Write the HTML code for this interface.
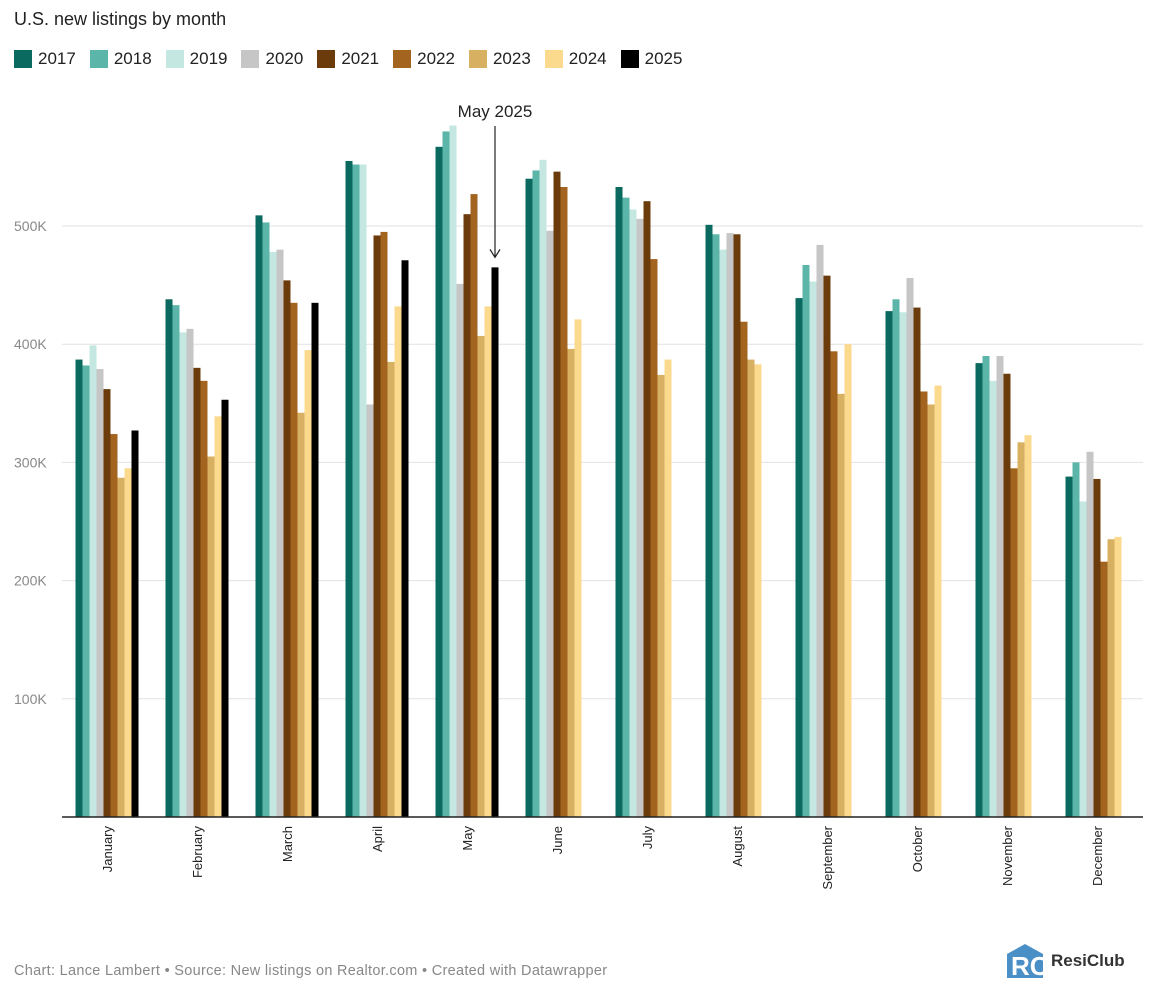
<!DOCTYPE html>
<html><head><meta charset="utf-8">
<style>
body{margin:0;background:#fff;font-family:"Liberation Sans",sans-serif;}
#wrap{position:relative;width:1154px;height:994px;overflow:hidden;}
.t{position:absolute;}
</style></head>
<body>
<div id="wrap">
<div class="t" style="left:14px;top:9px;font-size:18px;color:#222;">U.S. new listings by month</div>
<div class="t" id="legend" style="left:14px;top:49px;font-size:17px;color:#222;display:flex;gap:14px;"></div>
<svg id="chart" width="1154" height="994" style="position:absolute;left:0;top:0;font-family:'Liberation Sans',sans-serif;"></svg>
<div class="t" style="left:14px;top:963px;font-size:14.5px;color:#888;letter-spacing:0.3px;">Chart: Lance Lambert • Source: New listings on Realtor.com • Created with Datawrapper</div>
<div class="t" style="left:1005px;top:942px;display:flex;align-items:center;gap:6px;">
<svg width="40" height="38" viewBox="0 0 40 38"><path d="M2 12 L20 2 L38 12 L38 36 L2 36Z" fill="#4a8fc6"/><text x="6" y="33" font-size="26" font-weight="bold" fill="#fff" font-family="Liberation Sans">RC</text></svg>
<span style="font-size:17px;font-weight:bold;color:#333;">ResiClub</span></div>
<script>
const years=['2017','2018','2019','2020','2021','2022','2023','2024','2025'];
const colors=['#0b6a5f','#5bb5a8','#c4e8e1','#c6c6c6','#6b3b0c','#a3641f','#d8b062','#fbd98d','#000000'];
const months=['January','February','March','April','May','June','July','August','September','October','November','December'];
const v2017=[387,438,509,555,567,540,533,501,439,428,384,288];
const v2018=[382,433,503,552,580,547,524,493,467,438,390,300];
const v2019=[399,410,478,552,585,556,514,480,453,427,369,267];
const v2020=[379,413,480,349,451,496,506,494,484,456,390,309];
const v2021=[362,380,454,492,510,546,521,493,458,431,375,286];
const v2022=[324,369,435,495,527,533,472,419,394,360,295,216];
const v2023=[287,305,342,385,407,396,374,387,358,349,317,235];
const v2024=[295,339,395,432,432,421,387,383,400,365,323,237];
const v2025=[327,353,435,471,465,null,null,null,null,null,null,null];
const series=[v2017,v2018,v2019,v2020,v2021,v2022,v2023,v2024,v2025];
const yTicks=[100,200,300,400,500];
const NS='http://www.w3.org/2000/svg';
const svg=document.getElementById('chart');
const y0=817,pxPerK=1.182,x0=62,x1=1143,groupW=90,firstC=107,barW=7;
const y=v=>y0-v*pxPerK;
const xc=i=>firstC+i*groupW;
function mk(t,a){const e=document.createElementNS(NS,t);for(const k in a)e.setAttribute(k,a[k]);svg.appendChild(e);return e;}
yTicks.forEach(t=>{
 const g=mk('line',{x1:x0,x2:x1,y1:y(t),y2:y(t),stroke:'#e2e2e2','stroke-width':1});
 
 
 const tx=mk('text',{x:14,y:y(t)+5,'font-size':14,fill:'#888'});tx.textContent=t+'K';
 
 
});
months.forEach((m,i)=>{
 series.forEach((s,j)=>{
  if(s[i]==null)return;
  const r=mk('rect',{x:xc(i)-31.5+j*barW,y:y(s[i]),width:barW,height:s[i]*pxPerK,fill:colors[j]});
  
  
 });
 const t=mk('text',{x:0,y:0,'font-size':13,fill:'#222','text-anchor':'end',transform:`translate(${xc(i)+5},826) rotate(-90)`});
 t.textContent=m;
 
 
});
const ax=mk('line',{x1:x0,x2:x1,y1:y0,y2:y0,stroke:'#222','stroke-width':1.5});


const ai=4,aj=8,axx=xc(ai)-31.5+aj*barW+barW/2;
const an=mk('text',{x:axx,y:117,'font-size':17,fill:'#222','text-anchor':'middle'});an.textContent='May 2025';


const al=mk('path',{d:`M${axx} 126 L${axx} ${y(v2025[ai])-10} M${axx-5} ${y(v2025[ai])-18} L${axx} ${y(v2025[ai])-10} L${axx+5} ${y(v2025[ai])-18}`,stroke:'#222','stroke-width':1.2,fill:'none'});


const lg=document.getElementById('legend');
years.forEach((yr,j)=>{
 const d=document.createElement('div');
 
 
 d.style.cssText='display:flex;align-items:center;gap:6px;';
 d.innerHTML=`<span style="display:inline-block;width:18px;height:18px;background:${colors[j]}"></span><span>${yr}</span>`;
 lg.appendChild(d);
});
</script>
</div>
</body></html>
